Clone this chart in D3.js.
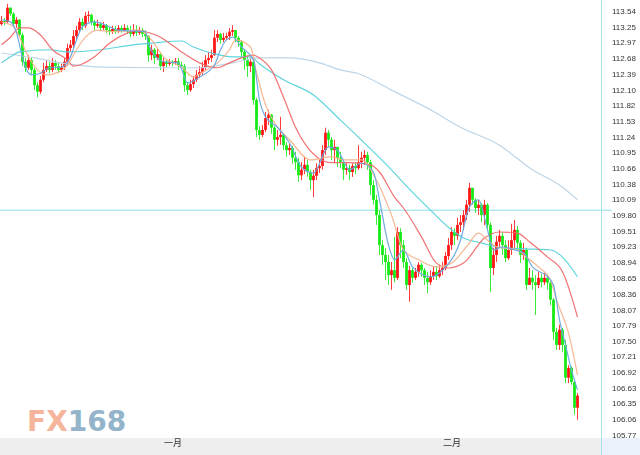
<!DOCTYPE html>
<html><head><meta charset="utf-8">
<script src="https://cdn.jsdelivr.net/npm/d3@7/dist/d3.min.js"></script>
<style>html,body{margin:0;padding:0;background:#fff;overflow:hidden}svg{display:block}</style>
</head><body><svg id="c" width="640" height="455"></svg>
<script>
// ---- data (USD/JPY style bars) ----
const firstOpen = 113.30;
const closes = [
113.36,113.34,113.60,113.49,113.30,113.38,113.10,112.61,112.50,112.64,
112.46,112.18,112.06,112.28,112.46,112.53,112.46,112.59,112.53,112.46,
112.51,112.61,112.86,112.92,113.08,113.19,113.34,113.27,113.45,113.47,
113.34,113.27,113.30,113.23,113.28,113.19,113.16,113.21,113.17,113.23,
113.19,113.23,113.17,113.12,113.19,113.14,113.19,113.12,113.08,112.73,
112.83,112.68,112.75,112.53,112.61,112.57,112.61,112.59,112.62,112.55,
112.53,112.18,112.09,112.20,112.28,112.37,112.42,112.51,112.64,112.68,
112.73,113.05,113.12,113.01,113.05,113.08,113.16,113.19,113.05,112.97,
112.79,112.64,112.53,112.61,111.91,111.36,111.27,111.36,111.58,111.64,
111.40,111.18,111.23,111.27,111.08,110.99,111.03,110.85,110.77,110.53,
110.63,110.72,110.59,110.44,110.52,110.66,110.70,110.99,111.31,111.18,
110.99,111.05,110.85,110.77,110.63,110.66,110.59,110.70,110.66,110.77,
110.85,110.90,110.77,110.35,110.08,109.80,109.25,109.07,108.94,108.70,
108.79,108.65,109.49,109.25,108.94,108.52,108.79,108.65,108.76,108.89,
108.79,108.65,108.57,108.68,108.76,108.68,108.79,108.83,109.05,109.25,
109.49,109.42,109.62,109.67,109.80,109.99,110.30,110.08,109.93,109.99,
109.80,109.99,109.62,108.83,109.07,109.31,109.42,109.25,109.01,109.16,
109.34,109.53,109.29,109.07,109.16,108.52,108.65,108.57,108.52,108.65,
108.57,108.65,108.56,108.25,107.66,107.42,107.70,107.42,106.82,107.00,
106.74,106.27,106.49];
const highs = [
113.45,113.41,113.67,113.61,113.52,113.43,113.39,113.14,112.68,112.73,
112.68,112.50,112.24,112.35,112.59,112.64,112.61,112.68,112.64,112.59,
112.57,112.68,112.94,113.01,113.19,113.27,113.41,113.41,113.52,113.54,
113.49,113.38,113.38,113.34,113.34,113.30,113.25,113.27,113.27,113.28,
113.27,113.30,113.28,113.27,113.30,113.28,113.25,113.23,113.19,113.10,
112.92,112.86,112.86,112.79,112.68,112.64,112.66,112.64,112.68,112.68,
112.61,112.57,112.24,112.28,112.35,112.46,112.53,112.61,112.73,112.79,
112.83,113.19,113.19,113.14,113.14,113.14,113.23,113.28,113.19,113.08,
113.01,112.83,112.73,112.68,112.64,111.95,111.43,111.45,111.69,111.73,
111.65,111.43,111.36,111.60,111.29,111.14,111.10,111.07,110.96,110.85,
110.77,110.87,110.81,110.63,110.63,110.75,110.81,111.08,111.40,111.36,
111.23,111.18,111.05,110.96,110.81,110.75,110.72,110.75,110.77,111.08,
110.96,110.99,110.96,110.81,110.44,110.17,109.89,109.34,109.20,109.07,
108.94,109.40,109.58,109.56,109.34,109.01,108.87,108.83,108.83,108.94,
108.92,108.83,108.76,108.79,108.85,108.87,108.89,108.94,109.12,109.38,
109.58,109.56,109.75,109.80,109.89,110.08,110.39,110.26,110.11,110.08,
110.02,110.08,110.02,109.67,109.20,109.42,109.53,109.49,109.34,109.34,
109.64,109.71,109.60,109.34,109.29,109.20,108.83,108.79,108.70,108.76,
108.72,108.74,108.72,108.61,108.28,107.73,107.79,107.73,107.51,107.05,
107.03,106.78,106.54];
const lows = [
113.27,113.28,113.32,113.45,113.25,113.23,113.05,112.53,112.42,112.46,
112.37,112.09,111.96,112.02,112.24,112.42,112.40,112.42,112.46,112.40,
112.42,112.46,112.53,112.79,112.86,113.01,113.14,113.19,113.23,113.34,
113.28,113.19,113.23,113.17,113.19,113.14,113.10,113.12,113.12,113.14,
113.14,113.16,113.12,113.06,113.08,113.08,113.10,113.06,113.01,112.61,
112.64,112.57,112.64,112.46,112.42,112.50,112.53,112.53,112.55,112.46,
112.48,112.06,112.00,112.06,112.13,112.24,112.31,112.37,112.46,112.57,
112.61,112.72,112.97,112.94,112.97,113.01,113.01,113.08,112.97,112.88,
112.68,112.46,112.33,112.42,111.82,111.23,111.18,111.23,111.32,111.45,
111.29,110.99,111.07,111.09,110.99,110.87,110.90,110.74,110.63,110.41,
110.44,110.55,110.50,110.26,110.13,110.44,110.57,110.63,110.90,111.05,
110.81,110.77,110.68,110.66,110.44,110.54,110.44,110.50,110.55,110.63,
110.66,110.72,110.63,110.17,109.99,109.62,109.07,108.89,108.61,108.52,
108.43,108.57,108.61,109.01,108.83,108.43,108.21,108.56,108.61,108.67,
108.67,108.52,108.37,108.52,108.61,108.61,108.65,108.70,108.79,108.98,
109.16,109.25,109.34,109.49,109.53,109.71,109.86,109.99,109.84,109.80,
109.67,109.62,109.53,108.39,108.70,108.94,109.22,109.07,108.94,108.98,
109.07,109.16,109.16,108.92,108.98,108.43,108.52,108.43,107.97,108.46,
108.48,108.52,108.43,108.15,107.51,107.33,107.33,107.29,106.72,106.72,
106.69,106.14,106.05];

// moving averages: [bar index, value]
const maShort = [[0,113.38],[3,113.34],[5,113.14],[7,112.68],[8,112.51],[10,112.37],[13,112.40],[16,112.50],[20,112.51],[23,112.70],[25,113.01],[27,113.25],[31,113.34],[39,113.19],[48,113.16],[49,112.92],[54,112.61],[59,112.59],[62,112.22],[66,112.33],[71,112.55],[73,112.83],[75,113.01],[77,113.06],[80,112.88],[84,112.64],[86,111.91],[88,111.60],[92,111.41],[96,111.12],[100,110.68],[104,110.57],[109,111.05],[112,110.99],[116,110.63],[120,110.75],[124,110.59],[126,110.08],[129,109.25],[131,108.98],[134,109.16],[137,108.85],[143,108.67],[147,108.79],[153,109.34],[156,109.95],[159,110.08],[162,109.53],[164,109.16],[167,109.22],[171,109.16],[174,109.11],[177,108.85],[182,108.67],[184,108.52],[186,107.88],[188,107.42],[190,106.96],[192,106.60]];
const maMid = [[0,113.34],[4,113.25],[9,112.70],[12,112.46],[15,112.37],[19,112.42],[22,112.55],[25,112.83],[28,113.06],[32,113.19],[36,113.16],[46,113.19],[50,113.01],[54,112.70],[60,112.51],[64,112.33],[67,112.42],[72,112.59],[76,112.83],[78,113.01],[83,112.88],[85,112.42],[88,111.82],[92,111.41],[96,111.18],[103,110.81],[110,110.87],[114,110.81],[120,110.81],[125,110.44],[130,109.80],[134,109.16],[139,108.98],[145,108.85],[150,108.92],[155,109.22],[159,109.47],[162,109.34],[165,109.22],[172,109.16],[175,109.03],[179,108.85],[183,108.61],[185,108.25],[189,107.64],[192,106.87]];
const maLong = [[0,112.92],[3,113.06],[6,113.23],[9,113.23],[13,113.10],[17,112.83],[22,112.64],[24,112.53],[26,112.55],[31,112.70],[36,112.95],[42,113.14],[45,113.19],[48,113.16],[53,113.06],[56,112.95],[60,112.79],[66,112.59],[72,112.50],[76,112.59],[80,112.68],[84,112.73],[86,112.68],[90,112.46],[94,111.96],[98,111.41],[105,110.87],[110,110.76],[116,110.76],[123,110.72],[126,110.59],[131,110.13],[134,109.93],[140,109.40],[145,108.92],[149,108.83],[154,108.92],[161,109.38],[166,109.49],[172,109.47],[176,109.31],[182,109.03],[187,108.76],[192,107.93]];
const maLonger = [[0,112.59],[3,112.70],[6,112.79],[16,112.83],[22,112.79],[33,112.83],[44,112.92],[50,112.95],[60,112.99],[64,112.88],[70,112.77],[77,112.70],[83,112.70],[86,112.57],[94,112.28],[104,112.00],[113,111.54],[121,111.12],[130,110.63],[134,110.39],[143,109.89],[150,109.53],[154,109.38],[160,109.29],[167,109.20],[175,109.18],[183,109.16],[187,109.03],[192,108.67]];
const maLongest = [[0,112.77],[11,112.68],[22,112.57],[33,112.51],[53,112.50],[66,112.50],[77,112.59],[86,112.68],[96,112.68],[106,112.59],[113,112.46],[119,112.39],[130,112.09],[143,111.73],[153,111.41],[166,111.08],[177,110.63],[186,110.35],[192,110.08]];

const yTicks = [113.54,113.25,112.97,112.68,112.39,112.10,111.82,111.53,111.24,110.95,110.66,110.38,110.09,109.80,109.51,109.23,108.94,108.65,108.36,108.07,107.79,107.50,107.21,106.92,106.63,106.35,106.06,105.77];
const monthLabels = ["一月","二月"];
const monthBars = [57,150];
const refLevel = 109.89;

// ---- drawing ----
const W = 640, H = 455, plotR = 601, plotB = 438;
const svg = d3.select("#c");
const n = closes.length;
const x = d3.scaleLinear().domain([0, n - 1]).range([1.5, 577.5]);
const y = d3.scaleLinear().domain([105.77, 113.54]).range([435, 11]);

const bars = closes.map((c, i) => ({
  i, o: i ? closes[i - 1] : firstOpen, c, h: highs[i], l: lows[i]
}));

svg.append("rect").attr("x",0).attr("y",0).attr("width",W).attr("height",H).attr("fill","#fff");

// logo
const logo = svg.append("text").attr("x",27).attr("y",431)
  .style("font-family","'DejaVu Sans', sans-serif").style("font-weight","bold").style("font-size","28px");
logo.append("tspan").attr("fill","#f5b59c").text("FX");
logo.append("tspan").attr("fill","#93b4ca").text("168");

// reference level
svg.append("line").attr("x1",0).attr("x2",612).attr("y1",y(refLevel)).attr("y2",y(refLevel))
  .attr("stroke","#8fe0e6").attr("stroke-width",1);

const blur = svg.append("defs").append("filter").attr("id","soft");
blur.append("feGaussianBlur").attr("stdDeviation",0.35);

const gC = svg.append("g").attr("filter","url(#soft)");
const col = d => d.c > d.o ? "#ff1414" : "#18ea18";
gC.selectAll("line.w").data(bars).join("line")
  .attr("x1",d=>x(d.i)).attr("x2",d=>x(d.i))
  .attr("y1",d=>y(Math.max(d.h,d.o,d.c))).attr("y2",d=>y(Math.min(d.l,d.o,d.c)))
  .attr("stroke",d=>col(d)).attr("stroke-width",1).attr("opacity",0.85);
gC.selectAll("rect.b").data(bars).join("rect")
  .attr("x",d=>x(d.i)-1.4).attr("width",2.8)
  .attr("y",d=>y(Math.max(d.o,d.c)))
  .attr("height",d=>Math.max(1,Math.abs(y(d.o)-y(d.c))))
  .attr("fill",d=>col(d));

const line = d3.line().x(d=>x(d[0])).y(d=>y(d[1])).curve(d3.curveMonotoneX);
const mas = [
  [maLongest,"#b9d3e6"],
  [maLonger,"#55d2dc"],
  [maLong,"#f06a6a"],
  [maMid,"#f5b38c"],
  [maShort,"#6aa6e0"]
];
mas.forEach(([d,c]) => svg.append("path").datum(d).attr("d",line)
  .attr("fill","none").attr("stroke",c).attr("stroke-width",1.2).attr("opacity",0.95));

// axis panel
svg.append("rect").attr("x",0).attr("y",plotB).attr("width",plotR).attr("height",H-plotB).attr("fill","#eeeeee");
svg.append("rect").attr("x",plotR).attr("y",plotB).attr("width",W-plotR).attr("height",H-plotB).attr("fill","#eaf1fa");
svg.append("line").attr("x1",plotR+0.5).attr("x2",plotR+0.5).attr("y1",0).attr("y2",H)
  .attr("stroke","#a6e3ea").attr("stroke-width",1);

const yAxis = d3.axisRight(y).tickValues(yTicks).tickSize(0).tickPadding(0).tickFormat(d3.format(".2f"));
const ya = svg.append("g").attr("transform","translate(612,0)").call(yAxis);
ya.select(".domain").remove();
ya.selectAll("text").style("font-family","'Liberation Sans', Arial, sans-serif").style("font-size","8px").attr("fill","#333");

const xAxis = d3.axisBottom(x).tickValues(monthBars).tickSize(0).tickPadding(0).tickFormat((d,i)=>monthLabels[i]);
const xa = svg.append("g").attr("transform",`translate(0,${plotB+2})`).call(xAxis);
xa.select(".domain").remove();
xa.selectAll("text").style("font-family","'Noto Sans CJK SC', sans-serif").style("font-size","9px").attr("fill","#333");
</script></body></html>
